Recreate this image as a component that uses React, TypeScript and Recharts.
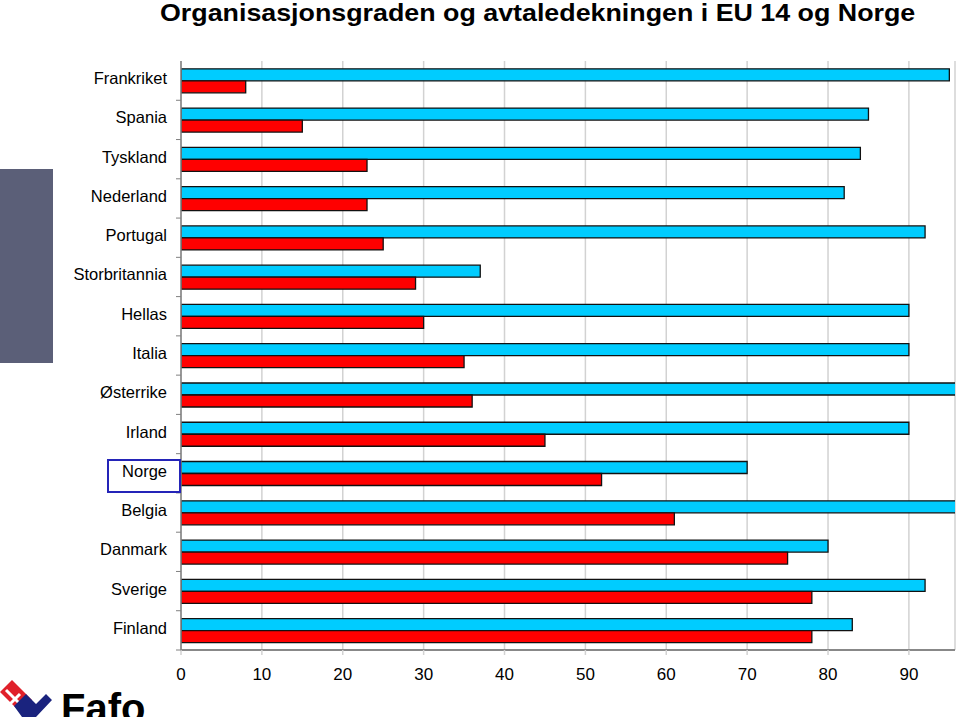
import React from "react";
import { BarChart, Bar, XAxis, YAxis, CartesianGrid } from "recharts";

const countries = [
  "Frankriket", "Spania", "Tyskland", "Nederland", "Portugal", "Storbritannia",
  "Hellas", "Italia", "Østerrike", "Irland", "Norge", "Belgia", "Danmark", "Sverige", "Finland",
];
const avtaledekning = [95, 85, 84, 82, 92, 37, 90, 90, 98, 90, 70, 96, 80, 92, 83];
const organisasjonsgrad = [8, 15, 23, 23, 25, 29, 30, 35, 36, 45, 52, 61, 75, 78, 78];
const xTicks = [0, 10, 20, 30, 40, 50, 60, 70, 80, 90];
const title = "Organisasjonsgraden og avtaledekningen i EU 14 og Norge";

const data = countries.map((c, i) => ({
  country: c,
  avtaledekning: avtaledekning[i],
  organisasjonsgrad: organisasjonsgrad[i],
}));

const W = 960;
const H = 717;
const TOP = 61;
const BOTTOM = 650;
const LEFT = 181;
const FONT = "Arial, 'Liberation Sans', sans-serif";

const band = (BOTTOM - TOP) / countries.length;

const YTick = (props: any) => {
  const { y, payload } = props;
  return (
    <g>
      <text
        x={LEFT - 14}
        y={y + 3.5}
        textAnchor="end"
        fontSize={16.5}
        fontFamily={FONT}
        fill="#000"
      >
        {payload.value}
      </text>
      <line x1={LEFT - 5} x2={LEFT} y1={y + band / 2} y2={y + band / 2} stroke="#808080" strokeWidth={1} />
    </g>
  );
};

export default function App() {
  return (
    <div
      style={{
        position: "fixed",
        left: 0,
        top: 0,
        width: W,
        height: H,
        overflow: "hidden",
        background: "#fff",
      }}
    >
      <BarChart
        width={W}
        height={H}
        data={data}
        layout="vertical"
        margin={{ top: TOP, right: 5, bottom: 37, left: 0 }}
        barCategoryGap="20%"
        barGap={0}
      >
        <CartesianGrid horizontal={false} vertical stroke="#d2d2d2" strokeWidth={1.5} />
        <XAxis
          type="number"
          domain={[0, 95.7]}
          allowDataOverflow
          ticks={xTicks}
          interval={0}
          tickLine={{ stroke: "#d2d2d2", strokeWidth: 1.5 }}
          tickSize={5}
          axisLine={{ stroke: "#888", strokeWidth: 2 }}
          tick={{ fontSize: 17, fontFamily: FONT, fill: "#000" }}
          tickMargin={13}
          height={30}
        />
        <XAxis
          xAxisId="top"
          type="number"
          domain={[0, 95.7]}
          orientation="top"
          height={0}
          tick={false}
          tickLine={false}
          axisLine={{ stroke: "#888", strokeWidth: 1.5 }}
        />
        <YAxis
          type="category"
          dataKey="country"
          width={LEFT}
          interval={0}
          tickLine={false}
          axisLine={{ stroke: "#808080", strokeWidth: 1.5 }}
          tick={<YTick />}
        />
        <Bar
          dataKey="avtaledekning"
          fill="#00CCFF"
          stroke="#111"
          strokeWidth={1.3}
          isAnimationActive={false}
        />
        <Bar
          dataKey="organisasjonsgrad"
          fill="#FF0000"
          stroke="#111"
          strokeWidth={1.3}
          isAnimationActive={false}
        />
      </BarChart>

      <div
        style={{
          position: "absolute",
          left: 160,
          top: -1,
          fontFamily: FONT,
          fontWeight: "bold",
          fontSize: 24,
          lineHeight: "28px",
          color: "#000",
          whiteSpace: "nowrap",
          transform: "scaleX(1.117)",
          transformOrigin: "0 0",
        }}
      >
        {title}
      </div>

      <div
        style={{
          position: "absolute",
          left: 0,
          top: 169,
          width: 53,
          height: 194,
          background: "#5b5f78",
        }}
      />

      <div
        style={{
          position: "absolute",
          left: 107,
          top: 459,
          width: 74,
          height: 34,
          boxSizing: "border-box",
          border: "2px solid #2424b8",
        }}
      />

      <svg style={{ position: "absolute", left: 0, top: 676 }} width={160} height={41}>
        <polygon points="0,16 12,4 32,24 20,36" fill="#e0202a" />
        <line x1={6} y1={14} x2={24} y2={32} stroke="#fff" strokeWidth={3} />
        <line x1={10} y1={28} x2={20} y2={18} stroke="#fff" strokeWidth={3} />
        <polygon points="14,30 26,18 36,28 46,18 52,24 36,41 22,41" fill="#1a237e" />
        <text x={61} y={46} fontFamily={FONT} fontWeight="bold" fontSize={40} fill="#000">
          Fafo
        </text>
      </svg>
    </div>
  );
}
